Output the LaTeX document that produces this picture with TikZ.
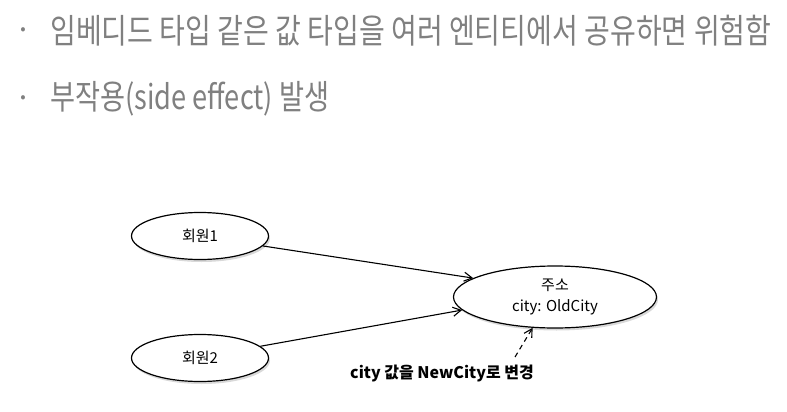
\documentclass[tikz,border=0pt]{standalone}
\usepackage{fontspec}
\setmainfont{Noto Sans CJK KR}
\usetikzlibrary{shapes.geometric,arrows.meta,shadows}
\definecolor{slidegray}{RGB}{128,128,128}

\begin{document}
\begin{tikzpicture}[x=1pt,y=-1pt,
    headline/.style={anchor=west,inner sep=0pt,text=slidegray,font=\fontsize{34}{40}\selectfont},
    bulletmark/.style={inner sep=0pt,text=slidegray,font=\fontsize{16}{18}\selectfont},
    link/.style={line width=1.1pt,-{Straight Barb[length=8pt,width=9pt]}},
    change/.style={inner sep=1pt,font=\fontsize{16}{20}\selectfont\bfseries}]

        \useasboundingbox (0,0) rectangle (787,412);

        % bullet lines
        \node[bulletmark] (b1) at (23,31) {•};
        \node[headline]   (t1) at (50,31) {\scalebox{0.825}[1]{임베디드 타입 같은 값 타입을 여러 엔티티에서 공유하면 위험함}};
        \node[bulletmark] (b2) at (23,99) {•};
        \node[headline]   (t2) at (50,99) {\scalebox{0.8}[1]{부작용(side effect) 발생}};

        \begin{scope}[every node/.style={ellipse,draw,line width=1.2pt,fill=white,inner sep=0pt,
            minimum width=137pt,minimum height=47pt,font=\fontsize{15}{21}\selectfont,
            drop shadow={shadow xshift=1.5pt,shadow yshift=-2.5pt,opacity=0.3}}]
          \node (m1)   at (200,236) {회원1};
          \node (m2)   at (200,358) {회원2};
          \node[minimum width=203pt,minimum height=62pt,align=center] (addr) at (555,297) {주소\\city: OldCity};
        \end{scope}

        \draw[link] (m1.-9) -- (addr.167);
        \draw[link] (m2.11) -- (addr.188);

        \node[change] (chg) at (442,373) {city 값을 NewCity로 변경};
        \coordinate (chgtail) at (515,357);
        \draw[link,dash pattern=on 5pt off 4pt] (chgtail) -- (addr.234);

      \end{tikzpicture}
\end{document}
